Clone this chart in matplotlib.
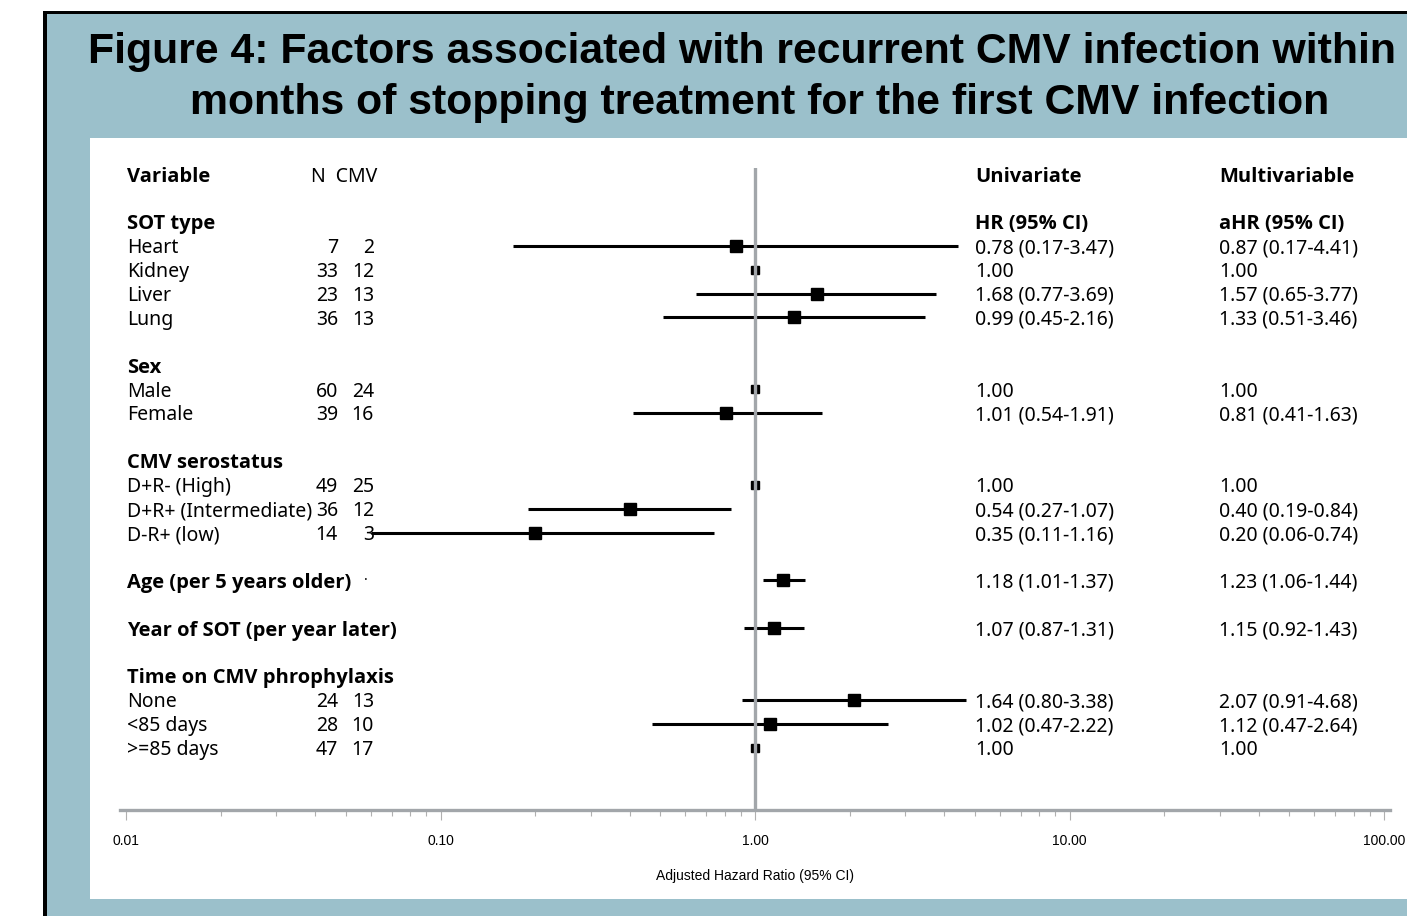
import matplotlib
matplotlib.use('Agg')
import matplotlib.pyplot as plt
from matplotlib.patches import Rectangle
from matplotlib.transforms import blended_transform_factory
from matplotlib.ticker import FixedLocator, LogLocator, NullFormatter

# ---- data ----
row_labels = ['SOT type', 'Heart', 'Kidney', 'Liver', 'Lung',
              'Sex', 'Male', 'Female',
              'CMV serostatus', 'D+R- (High)', 'D+R+ (Intermediate)', 'D-R+ (low)',
              'Age (per 5 years older)',
              'Year of SOT (per year later)',
              'Time on CMV phrophylaxis', 'None', '<85 days', '>=85 days']
row_pos = [2, 3, 4, 5, 6, 8, 9, 10, 12, 13, 14, 15, 17, 19, 21, 22, 23, 24]
row_bold = [True, False, False, False, False, True, False, False,
            True, False, False, False, True, True, True, False, False, False]
n_total = ['', '7', '33', '23', '36', '', '60', '39',
           '', '49', '36', '14', '', '', '', '24', '28', '47']
n_cmv = ['', '2', '12', '13', '13', '', '24', '16',
         '', '25', '12', '3', '', '', '', '13', '10', '17']
uni_text = ['HR (95% CI)', '0.78 (0.17-3.47)', '1.00', '1.68 (0.77-3.69)', '0.99 (0.45-2.16)',
            '', '1.00', '1.01 (0.54-1.91)',
            '', '1.00', '0.54 (0.27-1.07)', '0.35 (0.11-1.16)',
            '1.18 (1.01-1.37)', '1.07 (0.87-1.31)',
            '', '1.64 (0.80-3.38)', '1.02 (0.47-2.22)', '1.00']
multi_text = ['aHR (95% CI)', '0.87 (0.17-4.41)', '1.00', '1.57 (0.65-3.77)', '1.33 (0.51-3.46)',
              '', '1.00', '0.81 (0.41-1.63)',
              '', '1.00', '0.40 (0.19-0.84)', '0.20 (0.06-0.74)',
              '1.23 (1.06-1.44)', '1.15 (0.92-1.43)',
              '', '2.07 (0.91-4.68)', '1.12 (0.47-2.64)', '1.00']

# plotted estimates (multivariable model)
est_rows = [3, 5, 6, 10, 14, 15, 17, 19, 22, 23]
est_ahr = [0.87, 1.57, 1.33, 0.81, 0.40, 0.20, 1.23, 1.15, 2.07, 1.12]
est_lo = [0.17, 0.65, 0.51, 0.41, 0.19, 0.06, 1.06, 0.92, 0.91, 0.47]
est_hi = [4.41, 3.77, 3.46, 1.63, 0.84, 0.74, 1.44, 1.43, 4.68, 2.64]
ref_rows = [4, 9, 13, 24]

x_ticks = [0.01, 0.1, 1, 10, 100]
x_ticklabels = ['0.01', '0.10', '1.00', '10.00', '100.00']

title_1 = 'Figure 4: Factors associated with recurrent CMV infection within'
title_2 = 'months of stopping treatment for the first CMV infection'

# ---- layout ----
W, H = 1407, 916
BLUE = '#9bc0cb'
GREY = '#a2a6aa'
BODY = 'Noto Sans'
BODY_B = 'Open Sans'
FS = 14
FS_B = 14.5


def fx(px):
    return px / W


def fy(py):
    return 1 - py / H


fig = plt.figure(figsize=(W / 100, H / 100), dpi=100)
fig.patch.set_facecolor('white')


def frect(x0, y0, x1, y1, color):
    fig.patches.append(Rectangle((fx(x0), fy(y1)), fx(x1) - fx(x0), fy(y0) - fy(y1),
                                 transform=fig.transFigure, facecolor=color,
                                 edgecolor='none', zorder=-5))


frect(43, 11, W, H, 'black')
frect(47, 14, W, H, BLUE)
frect(90, 138, W, 899, 'white')

fig.text(fx(88), fy(52), title_1, ha='left', va='center', fontsize=30.8,
         fontweight='bold', family='Liberation Sans')
fig.text(fx(760), fy(103), title_2, ha='center', va='center', fontsize=30.8,
         fontweight='bold', family='Liberation Sans')

# axes: 0.01 at x=126 px, 100 at x=1384 px, rows 24 px apart
ax_l, ax_r, ax_t, ax_b = 120, 1390, 168, 810
ax = fig.add_axes([fx(ax_l), fy(ax_b), fx(ax_r) - fx(ax_l), fy(ax_t) - fy(ax_b)])
ax.set_facecolor('none')
ax.set_xscale('log')
k = (1384 - 126) / 4
ax.set_xlim(10 ** (-2 - (126 - ax_l) / k), 10 ** (2 + (ax_r - 1384) / k))
step = 23.9
ax.set_ylim((ax_b - 174) / step, (ax_t - 174) / step)

for s in ['top', 'left', 'right']:
    ax.spines[s].set_visible(False)
ax.spines['bottom'].set_color(GREY)
ax.spines['bottom'].set_linewidth(2.4)
ax.set_yticks([])
ax.xaxis.set_major_locator(FixedLocator(x_ticks))
ax.set_xticklabels(x_ticklabels, fontsize=10, family='Liberation Sans')
ax.xaxis.set_minor_locator(LogLocator(base=10, subs=range(2, 10)))
ax.xaxis.set_minor_formatter(NullFormatter())
ax.tick_params(axis='x', which='major', length=7, width=0.8, color='#b0b0b0', pad=10)
ax.tick_params(axis='x', which='minor', length=4.5, width=0.8, color='#b0b0b0')

# reference markers, grey line, CIs, estimates
ax.plot([1] * len(ref_rows), ref_rows, 's', ms=6, color='black', zorder=2)
ax.hlines(est_rows, est_lo, est_hi, color='black', lw=2.2, zorder=2)
ax.axvline(1, color=GREY, lw=2.4, zorder=3)
ax.plot(est_ahr, est_rows, 's', ms=8, color='black', zorder=4)

fig.text(fx(755), fy(876), 'Adjusted Hazard Ratio (95% CI)', ha='center', va='center',
         fontsize=10, family='Liberation Sans')

# text columns
tr = blended_transform_factory(fig.transFigure, ax.transData)
VA = 'center_baseline'


def put(px, r, s, ha='left', bold=False):
    if bold:
        ax.text(fx(px), r, s, transform=tr, ha=ha, va=VA, fontsize=FS_B,
                fontweight='bold', family=BODY_B)
    else:
        ax.text(fx(px), r, s, transform=tr, ha=ha, va=VA, fontsize=FS,
                family=BODY)


put(127, 0, 'Variable', bold=True)
put(311, 0, 'N  CMV')
put(975, 0, 'Univariate', bold=True)
put(1219, 0, 'Multivariable', bold=True)

for lab, r, b, n1, c1, u1, m1 in zip(row_labels, row_pos, row_bold,
                                     n_total, n_cmv, uni_text, multi_text):
    put(127, r, lab, bold=b)
    put(338, r, n1, ha='right')
    put(374, r, c1, ha='right')
    put(975, r, u1, bold=(r == 2))
    put(1219, r, m1, bold=(r == 2))

ax.text(fx(366), 17, '.', transform=tr, ha='center', va='baseline',
        fontsize=10, family=BODY)

fig.savefig('out.png', dpi=100)
